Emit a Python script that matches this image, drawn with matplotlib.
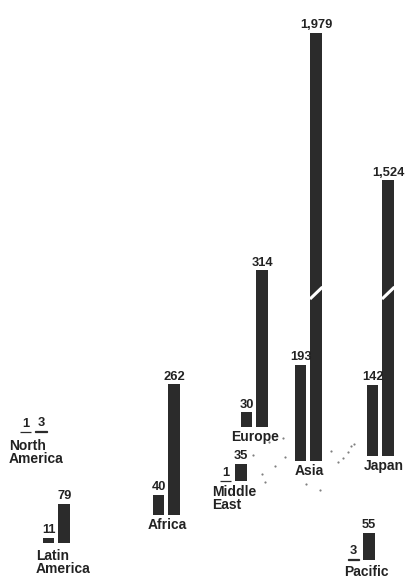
"""
plot.py - regional bar pairs laid out like a map
"""

import matplotlib
matplotlib.use("Agg")
import matplotlib.pyplot as plt

#============================================
# DATA
#============================================

regions = ["North\nAmerica", "Latin\nAmerica", "Africa", "Europe",
           "Middle\nEast", "Asia", "Japan", "Pacific"]
first_values = [1, 11, 40, 30, 1, 193, 142, 3]
second_values = [3, 79, 262, 314, 35, 1979, 1524, 55]

#============================================
# LAYOUT (pixel positions on the 406x578 canvas)
#============================================

W, H = 406, 578
PX = 2.0  # value units per pixel (vertical)

# left edge of first bar, baseline row
anchors = [(20, 432), (43, 543), (153, 515), (241, 427),
           (220, 481), (295, 461), (367, 456), (348, 560)]

# region label: x, top row, horizontal alignment
label_pos = [(9, 439, "left"), (36, 549, "left"), (167, 518, "center"),
             (255, 430, "center"), (212, 485, "left"), (309, 464, "center"),
             (384, 459, "center"), (366, 565, "center")]

# bars too tall to fit: pixel row where the bar is cut off, and break row
clip_top = {5: 33, 6: 180}
BREAK_ROW = 293

BAR_W = 11.5
STEP = 15.5
BAR_COLOR = "#2b2b2b"
TEXT_COLOR = "#222222"

# scattered map dots near the Middle East / Asia / Japan
map_dots = [(253, 455), (262, 474), (275, 466), (285, 457), (265, 482),
            (306, 484), (320, 490), (331, 451), (338, 462), (343, 458),
            (348, 452), (351, 446), (354, 444), (283, 438), (269, 442)]


def row(py):
    # convert a pixel row to data units on the y axis
    return (H - py) * PX


plt.rcParams["font.family"] = ["Liberation Sans", "DejaVu Sans"]

fig = plt.figure(figsize=(W / 100, H / 100), dpi=100)
ax = fig.add_axes([0, 0, 1, 1])
ax.set_xlim(0, W)
ax.set_ylim(0, H * PX)
ax.axis("off")

#============================================
# DRAW
#============================================

for i, name in enumerate(regions):
    x0, base_px = anchors[i]
    base = row(base_px)
    xs = [x0 + BAR_W / 2, x0 + STEP + BAR_W / 2]
    vals = [first_values[i], second_values[i]]

    for j, (xc, v) in enumerate(zip(xs, vals)):
        shown = v
        if j == 1 and i in clip_top:
            shown = row(clip_top[i]) - base
        ax.bar(xc, shown, width=BAR_W, bottom=base, color=BAR_COLOR,
               edgecolor=BAR_COLOR, linewidth=0.9 if v < 5 else 0)
        ax.text(xc, base + shown + 3, f"{v:,}", ha="center", va="bottom",
                fontsize=9.3, fontweight="bold", color=TEXT_COLOR)

        # white slash across clipped bars
        if j == 1 and i in clip_top:
            yb = row(BREAK_ROW)
            ax.plot([xc - BAR_W / 2 - 0.5, xc + BAR_W / 2 + 0.5],
                    [yb - 12, yb + 12], color="white", linewidth=2.2,
                    solid_capstyle="butt")

    lx, ltop, ha = label_pos[i]
    ax.text(lx, row(ltop), name, ha=ha, va="top", multialignment="left",
            fontsize=10, fontweight="bold", color=TEXT_COLOR, linespacing=0.95)

ax.scatter([d[0] for d in map_dots], [row(d[1]) for d in map_dots],
           s=2.5, color="#808080", linewidths=0)

fig.savefig("out.png", dpi=100, facecolor="white")
